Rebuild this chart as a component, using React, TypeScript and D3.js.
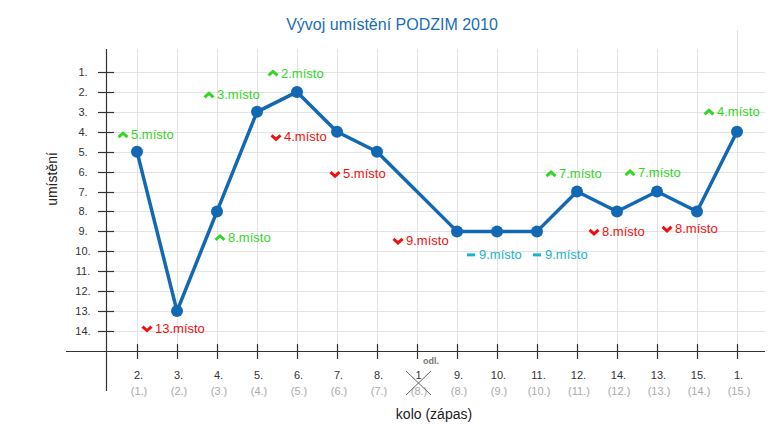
import React, { useRef, useEffect } from 'react';
import * as d3 from 'd3';

// kolo (round) shown on top, zápas (match) below
const rounds = ['2.', '3.', '4.', '5.', '6.', '7.', '8.', '1', '9.', '10.', '11.', '12.', '14.', '13.', '15.', '1.'];
const matches = ['(1.)', '(2.)', '(3.)', '(4.)', '(5.)', '(6.)', '(7.)', '(8.)', '(8.)', '(9.)', '(10.)', '(11.)', '(12.)', '(13.)', '(14.)', '(15.)'];
// placing after each match, null = postponed round
const ranks = [5, 13, 8, 3, 2, 4, 5, null, 9, 9, 9, 7, 8, 7, 8, 4];
const trends = ['up', 'down', 'up', 'up', 'up', 'down', 'down', null, 'down', 'same', 'same', 'up', 'down', 'up', 'down', 'up'];
const rankTicks = d3.range(1, 15);
const postponedIndex = 7;

// where each "x.místo" note sits relative to its point
const labelOffsets = [
  [-19, -17], [-35, 17], [-2, 26], [-53, -17], [-29, -19], [-66, 5], [-47, 22], [0, 0],
  [-64, 9], [-31, 23], [-5, 23], [-31, -18], [-28, 20], [-32, -19], [-35, 17], [-33, -20],
];

const trendColor = { up: '#33d626', down: '#f01010', same: '#1ab2d2' };

const W = 784;
const H = 434;

const Chart = () => {
  const svgRef = useRef(null);

  useEffect(() => {
    const svg = d3.select(svgRef.current);
    svg.selectAll('*').remove();
    const font = 'Liberation Sans, Arial, sans-serif';

    const x = d3.scalePoint()
      .domain(rounds.map((d, i) => i))
      .range([107, 767])
      .padding(0.75);

    const y = d3.scaleLinear().domain([1, 14]).range([72, 331]);

    const axisX = 106;
    const axisY = 351;
    const plotTop = 49;
    const plotRight = 765;

    // title
    svg.append('text')
      .attr('x', 392)
      .attr('y', 30)
      .attr('text-anchor', 'middle')
      .attr('font-family', font)
      .attr('font-size', 16)
      .attr('fill', '#1a6cb6')
      .text('Vývoj umístění PODZIM 2010');

    // grid
    const grid = svg.append('g').attr('stroke', '#e3e3e3').attr('stroke-width', 1);
    grid.selectAll('line.h')
      .data(rankTicks)
      .enter()
      .append('line')
      .attr('x1', axisX)
      .attr('x2', plotRight)
      .attr('y1', (d) => Math.round(y(d)) + 0.5)
      .attr('y2', (d) => Math.round(y(d)) + 0.5);
    grid.selectAll('line.v')
      .data(rounds.map((d, i) => i))
      .enter()
      .append('line')
      .attr('x1', (d) => Math.round(x(d)) + 0.5)
      .attr('x2', (d) => Math.round(x(d)) + 0.5)
      .attr('y1', (d) => (d === rounds.length - 1 ? 30 : plotTop))
      .attr('y2', axisY);

    // axes
    const axes = svg.append('g').attr('stroke', '#333').attr('stroke-width', 1.2);
    axes.append('line')
      .attr('x1', 66).attr('x2', plotRight)
      .attr('y1', axisY + 0.5).attr('y2', axisY + 0.5);
    axes.append('line')
      .attr('x1', axisX + 0.5).attr('x2', axisX + 0.5)
      .attr('y1', plotTop).attr('y2', 391);

    axes.selectAll('line.yt')
      .data(rankTicks)
      .enter()
      .append('line')
      .attr('x1', 98).attr('x2', 114)
      .attr('y1', (d) => Math.round(y(d)) + 0.5)
      .attr('y2', (d) => Math.round(y(d)) + 0.5);
    axes.selectAll('line.xt')
      .data(rounds.map((d, i) => i))
      .enter()
      .append('line')
      .attr('x1', (d) => Math.round(x(d)) + 0.5)
      .attr('x2', (d) => Math.round(x(d)) + 0.5)
      .attr('y1', 344).attr('y2', 359);

    // y tick labels
    svg.append('g')
      .selectAll('text')
      .data(rankTicks)
      .enter()
      .append('text')
      .attr('x', 83)
      .attr('y', (d) => y(d) + 4)
      .attr('text-anchor', 'middle')
      .attr('font-family', font)
      .attr('font-size', 11)
      .attr('fill', '#333')
      .text((d) => `${d}.`);

    // x tick labels
    const xl = svg.append('g').attr('font-family', font).attr('text-anchor', 'middle');
    xl.selectAll('text.r')
      .data(rounds)
      .enter()
      .append('text')
      .attr('x', (d, i) => x(i) + 1.5)
      .attr('y', 379)
      .attr('font-size', 11)
      .attr('fill', '#333')
      .text((d) => d);
    xl.selectAll('text.m')
      .data(matches)
      .enter()
      .append('text')
      .attr('x', (d, i) => x(i) + 2)
      .attr('y', 395)
      .attr('font-size', 11)
      .attr('fill', '#aaa')
      .text((d) => d);

    // postponed round mark
    const px = x(postponedIndex);
    xl.append('text')
      .attr('x', px + 14)
      .attr('y', 364)
      .attr('font-size', 9)
      .attr('font-weight', 'bold')
      .attr('fill', '#777')
      .text('odl.');
    const cross = svg.append('g').attr('stroke', '#666').attr('stroke-width', 1);
    cross.append('line').attr('x1', px - 11).attr('y1', 371).attr('x2', px + 14).attr('y2', 395);
    cross.append('line').attr('x1', px + 14).attr('y1', 371).attr('x2', px - 11).attr('y2', 395);

    // axis titles
    svg.append('text')
      .attr('transform', 'translate(57,179) rotate(-90)')
      .attr('text-anchor', 'middle')
      .attr('font-family', font)
      .attr('font-size', 14)
      .attr('fill', '#222')
      .text('umístění');
    svg.append('text')
      .attr('x', 434)
      .attr('y', 419)
      .attr('text-anchor', 'middle')
      .attr('font-family', font)
      .attr('font-size', 14)
      .attr('fill', '#222')
      .text('kolo (zápas)');

    // line and points
    const points = ranks
      .map((r, i) => ({ i, r, trend: trends[i] }))
      .filter((d) => d.r !== null);

    const line = d3.line()
      .x((d) => x(d.i))
      .y((d) => y(d.r));

    svg.append('path')
      .datum(points)
      .attr('d', line)
      .attr('fill', 'none')
      .attr('stroke', '#1268b3')
      .attr('stroke-width', 3.5)
      .attr('stroke-linejoin', 'round');

    svg.selectAll('circle.pt')
      .data(points)
      .enter()
      .append('circle')
      .attr('cx', (d) => x(d.i))
      .attr('cy', (d) => y(d.r))
      .attr('r', 6)
      .attr('fill', '#1268b3');

    // place notes
    const notes = svg.selectAll('g.note')
      .data(points)
      .enter()
      .append('g')
      .attr('transform', (d) => {
        const [dx, dy] = labelOffsets[d.i];
        return `translate(${x(d.i) + dx},${y(d.r) + dy})`;
      });

    notes.append('path')
      .attr('d', (d) => {
        if (d.trend === 'up') return 'M0.5,2.5 L5,-1.5 L9.5,2.5';
        if (d.trend === 'down') return 'M0.5,-1.5 L5,2.5 L9.5,-1.5';
        return 'M1,0.5 L9,0.5';
      })
      .attr('fill', 'none')
      .attr('stroke', (d) => trendColor[d.trend])
      .attr('stroke-width', 3);

    notes.append('text')
      .attr('x', 13)
      .attr('y', 4.6)
      .attr('font-family', font)
      .attr('font-size', 13)
      .attr('fill', (d) => trendColor[d.trend])
      .text((d) => `${d.r}.místo`);
  }, []);

  return (
    <svg
      ref={svgRef}
      width={W}
      height={H}
      style={{ position: 'absolute', left: 0, top: 0, background: '#fff' }}
    />
  );
};

export default function App() {
  return <Chart />;
}
